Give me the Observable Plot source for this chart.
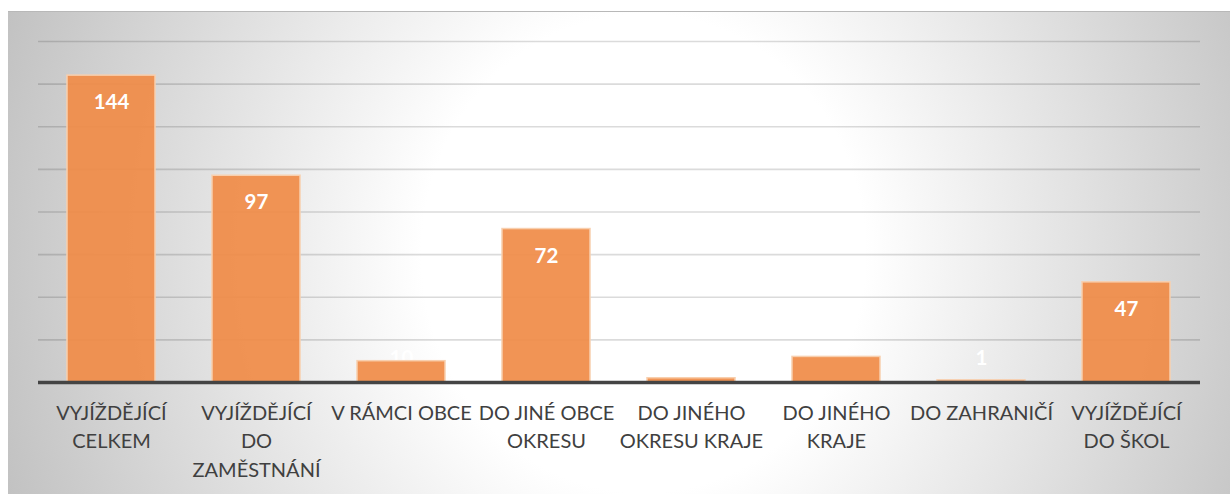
<!DOCTYPE html>
<html>
<head>
<meta charset="utf-8">
<script src="https://cdn.jsdelivr.net/npm/d3@7"></script>
<script src="https://cdn.jsdelivr.net/npm/@observablehq/plot@0.6"></script>
<style>
  html, body { margin: 0; padding: 0; background: #fff; }
  #wrap { position: relative; width: 1230px; height: 494px; overflow: hidden; }
  #bg { position: absolute; left: 8px; top: 11px; width: 1222px; height: 483px;
        border-top: 1px solid #b8b8b8;
        background: radial-gradient(ellipse 55% 150% at 52% 50%, #ffffff 0%, #ffffff 33%, #c2c2c2 100%); }
  #chart { position: absolute; left: 0; top: 0; }
</style>
</head>
<body>
<div id="wrap"><div id="bg"></div><div id="chart"></div></div>
<script>
const categories = [
  "VYJÍŽDĚJÍCÍ CELKEM",
  "VYJÍŽDĚJÍCÍ DO ZAMĚSTNÁNÍ",
  "V RÁMCI OBCE",
  "DO JINÉ OBCE OKRESU",
  "DO JINÉHO OKRESU KRAJE",
  "DO JINÉHO KRAJE",
  "DO ZAHRANIČÍ",
  "VYJÍŽDĚJÍCÍ DO ŠKOL"
];
const tickLabels = [
  "VYJÍŽDĚJÍCÍ\nCELKEM",
  "VYJÍŽDĚJÍCÍ\nDO\nZAMĚSTNÁNÍ",
  "V RÁMCI OBCE",
  "DO JINÉ OBCE\nOKRESU",
  "DO JINÉHO\nOKRESU KRAJE",
  "DO JINÉHO\nKRAJE",
  "DO ZAHRANIČÍ",
  "VYJÍŽDĚJÍCÍ\nDO ŠKOL"
];
const values = [144, 97, 10, 72, 2, 12, 1, 47];
const gridTicks = [20, 40, 60, 80, 100, 120, 140, 160];

const data = categories.map((c, i) => ({cat: c, value: values[i], labelY: Math.max(values[i], 24)}));
const labelMap = new Map(categories.map((c, i) => [c, tickLabels[i]]));
const smallLabels = data.filter(d => d.value < 24);
const bigLabels = data.filter(d => d.value >= 24);

const chart = Plot.plot({
  width: 1230,
  height: 494,
  marginLeft: 38,
  marginRight: 30,
  marginTop: 41,
  marginBottom: 112,
  style: {background: "transparent", fontFamily: "Lato, 'Open Sans', sans-serif"},
  x: {domain: categories, paddingInner: 0.39, paddingOuter: 0.195, label: null},
  y: {domain: [0, 160], label: null},
  marks: [
    Plot.ruleY(gridTicks, {stroke: "#000", strokeOpacity: 0.14, strokeWidth: 1.6}),
    Plot.text(smallLabels, {x: "cat", y: "labelY", text: d => String(d.value), dy: 27,
      fill: "#ffffff", fontSize: 20.5, fontWeight: "bold"}),
    Plot.barY(data, {x: "cat", y: "value", fill: "#f08c48", fillOpacity: 0.93, stroke: "#f8cfae", strokeWidth: 1.5}),
    Plot.text(bigLabels, {x: "cat", y: "labelY", text: d => String(d.value), dy: 27,
      fill: "#ffffff", fontSize: 20.5, fontWeight: "bold"}),
    Plot.ruleY([0], {stroke: "#444444", strokeWidth: 3.5}),
    Plot.axisX({tickSize: 0, tickPadding: 17, fontSize: 20, fill: "#404040",
      lineHeight: 1.43, tickFormat: d => labelMap.get(d), label: null}),
    Plot.axisY({ticks: [], label: null, tickSize: 0})
  ]
});
document.getElementById("chart").appendChild(chart);
</script>
</body>
</html>
